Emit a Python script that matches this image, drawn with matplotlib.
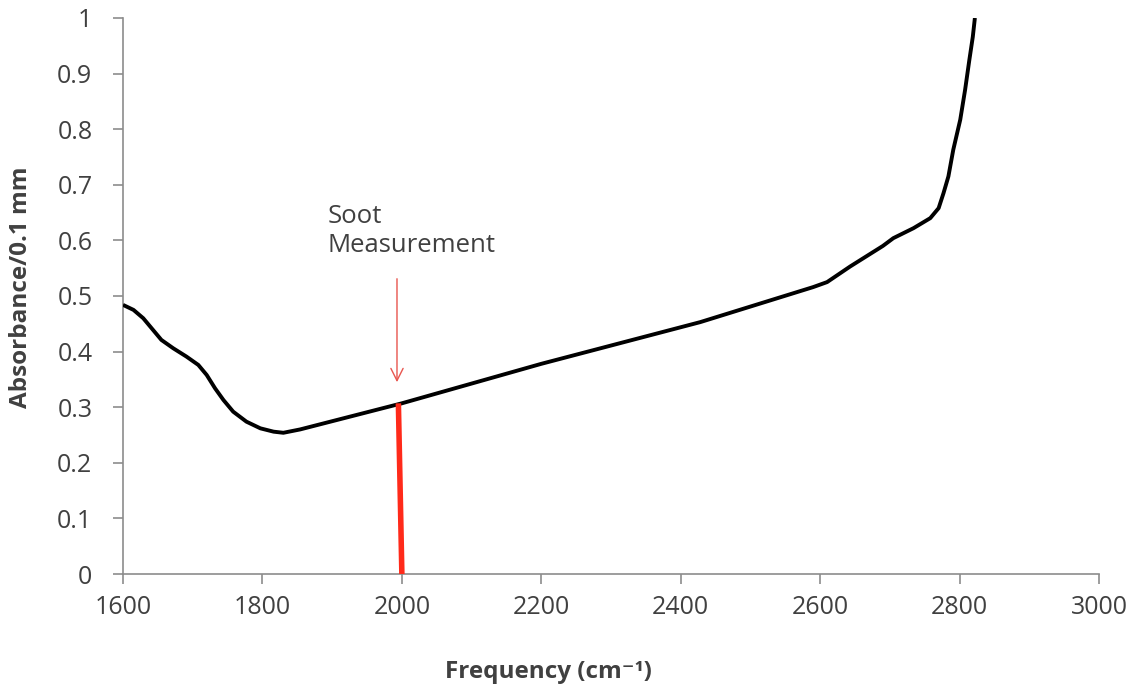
import matplotlib
matplotlib.use('Agg')
import matplotlib.pyplot as plt

# spectrum
freq = [1600, 1615, 1629, 1643, 1655, 1672, 1691, 1708, 1720, 1732, 1744, 1758, 1777, 1797,
        1816, 1830, 1854, 2000, 2200, 2428, 2590, 2610, 2643, 2690, 2705, 2734, 2758, 2770,
        2777, 2784, 2791, 2801, 2808, 2814, 2819, 2822]
absorb = [0.484, 0.475, 0.460, 0.439, 0.421, 0.406, 0.391, 0.376, 0.358, 0.334, 0.313, 0.292,
          0.274, 0.262, 0.256, 0.254, 0.260, 0.307, 0.378, 0.453, 0.516, 0.525, 0.553, 0.590,
          0.604, 0.622, 0.640, 0.658, 0.685, 0.715, 0.763, 0.817, 0.871, 0.924, 0.966, 1.0]

soot_freq = 2000
soot_top = 0.307
x_ticks = [1600, 1800, 2000, 2200, 2400, 2600, 2800, 3000]
y_ticks = [0, 0.1, 0.2, 0.3, 0.4, 0.5, 0.6, 0.7, 0.8, 0.9, 1]
y_labels = ['0', '0.1', '0.2', '0.3', '0.4', '0.5', '0.6', '0.7', '0.8', '0.9', '1']

plt.rcParams['font.family'] = ['Open Sans', 'DejaVu Sans']
axis_gray = '#8c8c8c'
text_gray = '#404040'

fig = plt.figure(figsize=(11.36, 6.91), dpi=100)
ax = fig.add_axes([0.1083, 0.1693, 0.8591, 0.8047])

ax.plot(freq, absorb, color='black', lw=2.8, solid_capstyle='butt', zorder=3)

# red measurement bar (slightly leaning in the original)
ax.plot([soot_freq - 5, soot_freq], [soot_top, 0], color='#ff2a1a', lw=4, zorder=4,
        solid_capstyle='butt')

ax.annotate('', xy=(soot_freq - 7, 0.340), xytext=(soot_freq - 7, 0.536),
            arrowprops=dict(arrowstyle='->', color='#e8554e', lw=1.0,
                            mutation_scale=22))
ax.text(1894, 0.666, 'Soot\nMeasurement', fontsize=18.5, color=text_gray,
        ha='left', va='top', linespacing=1.25)

ax.set_xlim(1600, 3000)
ax.set_ylim(0, 1)
ax.set_xticks(x_ticks)
ax.set_yticks(y_ticks)
ax.set_yticklabels(y_labels)

for side in ['top', 'right']:
    ax.spines[side].set_visible(False)
for side in ['left', 'bottom']:
    ax.spines[side].set_color(axis_gray)
    ax.spines[side].set_linewidth(1.2)

ax.tick_params(axis='both', colors=axis_gray, labelcolor=text_gray, labelsize=18,
               length=7, width=1.2, direction='out')
ax.tick_params(axis='x', pad=8)
ax.tick_params(axis='y', pad=15)

ax.set_xlabel('Frequency (cm\u207b\u00b9)', fontsize=17.5, fontweight='bold', color=text_gray)
ax.set_ylabel('Absorbance/0.1 mm', fontsize=17.5, fontweight='bold', color=text_gray)
ax.xaxis.set_label_coords(0.436, -0.155)
ax.yaxis.set_label_coords(-0.092, 0.516)

fig.savefig('out.png', dpi=100, facecolor='white')
